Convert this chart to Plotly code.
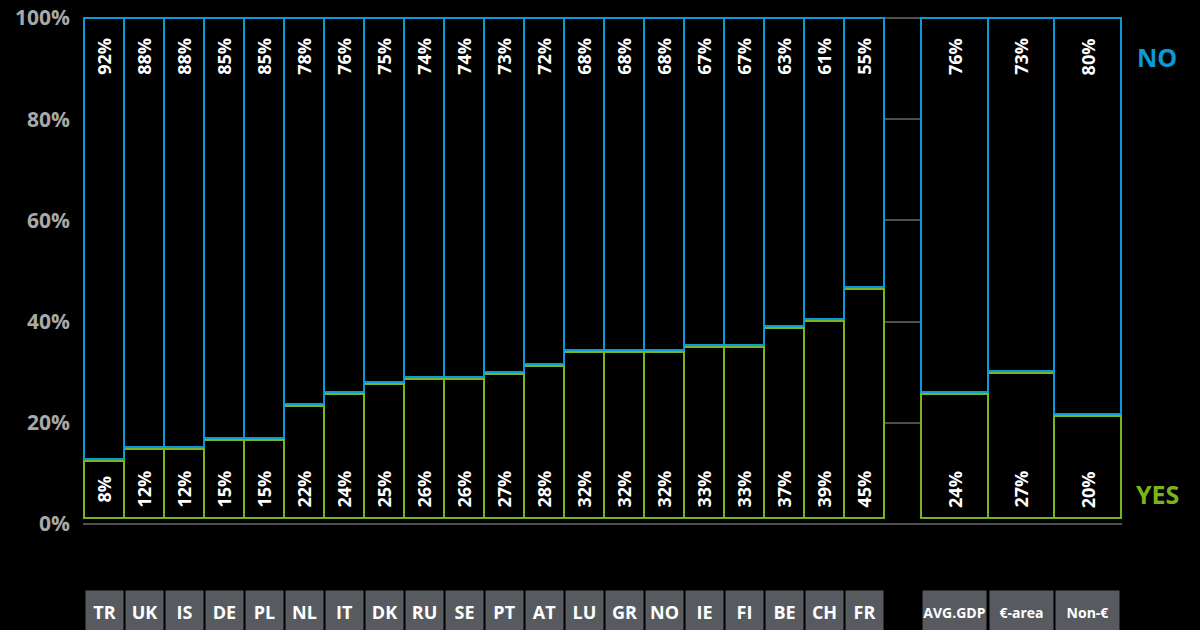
import plotly.graph_objects as go

# categories
countries = ["TR", "UK", "IS", "DE", "PL", "NL", "IT", "DK", "RU", "SE",
             "PT", "AT", "LU", "GR", "NO", "IE", "FI", "BE", "CH", "FR"]
groups = ["AVG.GDP", "€-area", "Non-€"]

# printed labels (%)
yes_label = [8, 12, 12, 15, 15, 22, 24, 25, 26, 26, 27, 28, 32, 32, 32, 33, 33, 37, 39, 45,
             24, 27, 20]
no_label = [92, 88, 88, 85, 85, 78, 76, 75, 74, 74, 73, 72, 68, 68, 68, 67, 67, 63, 61, 55,
            76, 73, 80]
# drawn height of the YES block (%)
yes_share = [12.4, 14.9, 14.9, 16.6, 16.6, 23.4, 25.6, 27.7, 28.7, 28.7, 29.7, 31.3, 34.0,
             34.0, 34.0, 35.0, 35.0, 38.7, 40.2, 46.5,
             25.6, 29.8, 21.3]
y_ticks = [0, 20, 40, 60, 80, 100]

BLUE = "#0a9ad6"
GREEN = "#7ab41d"
BOX = "#575b60"
GRID = "#4f4f4f"
FONT = "Open Sans"

# layout in pixel units along x
W, H = 1200, 630
ML, MR, MT, MB = 83, 78, 16, 106
country_w, gap_w, group_w = 40, 37, 200 / 3

labels = countries + groups
widths = [country_w] * len(countries) + [group_w] * len(groups)
centers = []
pos = 0
for i, w in enumerate(widths):
    if i == len(countries):
        pos += gap_w
    centers.append(pos + w / 2)
    pos += w

base = 1.2     # bars start a touch above the zero line
sep = 0.4      # small step so both outlines show

fig = go.Figure()
fig.add_trace(go.Bar(
    x=centers, y=[v - base for v in yes_share], base=[base] * len(yes_share),
    width=widths, marker=dict(color="black", line=dict(color=GREEN, width=2)),
    hoverinfo="skip", showlegend=False))
fig.add_trace(go.Bar(
    x=centers, y=[100 - (v + sep) for v in yes_share], base=[v + sep for v in yes_share],
    width=widths, marker=dict(color="black", line=dict(color=BLUE, width=2)),
    hoverinfo="skip", showlegend=False))

ann = []
plot_h = H - MT - MB
for c, lab, yl, nl, w in zip(centers, labels, yes_label, no_label, widths):
    ann.append(dict(x=c, y=92.35, xref="x", yref="y", text=f"{nl}%", textangle=-90,
                    showarrow=False, font=dict(family=FONT, size=18, color="white", weight="bold")))
    ann.append(dict(x=c, y=6.8, xref="x", yref="y", text=f"{yl}%", textangle=-90,
                    showarrow=False, font=dict(family=FONT, size=18, color="white", weight="bold")))
    small = w > country_w
    ann.append(dict(x=c, y=(H - MB - 612) / plot_h, xref="x", yref="paper", text=lab,
                    showarrow=False, bgcolor=BOX, borderpad=0,
                    width=63 if small else 37, height=42, yanchor="middle",
                    font=dict(family=FONT, size=14 if small else 18, color="white", weight="bold")))

plot_w = W - ML - MR
ann.append(dict(x=(1157 - ML) / plot_w, y=92.35, xref="paper", yref="y", text="NO",
                xanchor="center", showarrow=False,
                font=dict(family=FONT, size=25, color=BLUE, weight="bold")))
ann.append(dict(x=(1157 - ML) / plot_w, y=6.0, xref="paper", yref="y", text="YES",
                xanchor="center", showarrow=False,
                font=dict(family=FONT, size=25, color=GREEN, weight="bold")))

fig.update_layout(
    width=W, height=H,
    margin=dict(l=ML, r=MR, t=MT, b=MB, autoexpand=False),
    paper_bgcolor="black", plot_bgcolor="black",
    barmode="overlay", bargap=0,
    annotations=ann,
    xaxis=dict(range=[-1, pos + 1], showgrid=False, zeroline=False, automargin=False,
               showticklabels=False, fixedrange=True),
    yaxis=dict(range=[0, 100.4], tickmode="array", tickvals=y_ticks,
               ticktext=[f"{t}%" for t in y_ticks], automargin=False,
               showgrid=True, gridcolor=GRID, gridwidth=1.5,
               zeroline=True, zerolinecolor=GRID, zerolinewidth=2,
               ticklabelstandoff=12,
               tickfont=dict(family=FONT, size=21, color="#a8a8a8", weight="bold"),
               fixedrange=True),
)

fig.write_html("out.html", config={"displayModeBar": False},
               post_script="document.body.style.margin='0';")
